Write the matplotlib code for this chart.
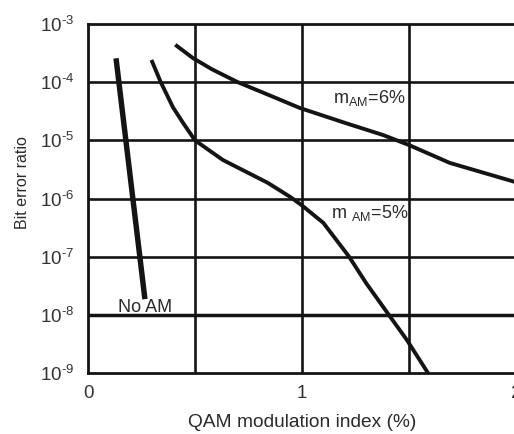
import matplotlib
matplotlib.use("Agg")
import matplotlib.pyplot as plt

plt.rcParams['font.family'] = ['Liberation Sans', 'DejaVu Sans']
plt.rcParams['mathtext.fontset'] = 'custom'
plt.rcParams['mathtext.rm'] = 'Liberation Sans'
plt.rcParams['mathtext.it'] = 'Liberation Sans'

# Data (QAM modulation index %, bit error ratio)
noam_x = [0.131, 0.266]
noam_y = [2.57e-4, 1.86e-8]

m5_x = [0.30, 0.34, 0.397, 0.444, 0.50, 0.63, 0.84, 0.944, 1.00, 1.10, 1.22, 1.30, 1.40, 1.49, 1.585]
m5_y = [2.24e-4, 1.0e-4, 3.7e-5, 2.0e-5, 1.0e-5, 4.6e-6, 1.86e-6, 1.07e-6, 7.6e-7, 3.8e-7, 1.0e-7, 3.5e-8, 1.07e-8, 3.7e-9, 1.05e-9]

m6_x = [0.415, 0.49, 0.58, 0.70, 0.865, 0.99, 1.20, 1.38, 1.50, 1.69, 1.99]
m6_y = [4.2e-4, 2.6e-4, 1.66e-4, 1.0e-4, 5.6e-5, 3.6e-5, 2.0e-5, 1.23e-5, 8.3e-6, 4.1e-6, 1.95e-6]

xticks = [0, 1, 2]
xtick_labels = ['0', '1', '2']
yexps = [9, 8, 7, 6, 5, 4, 3]
yticks = [10.0 ** (-k) for k in yexps]
ytick_labels = [r'$\mathregular{10^{\text{-%d}}}$' % k for k in yexps]

fig = plt.figure(figsize=(5.14, 4.34), dpi=100)
ax = fig.add_axes([88/514, 61/434, 428/514, 349/434])
ax.set_yscale('log')
ax.set_xlim(0, 2)
ax.set_ylim(1e-9, 1e-3)

ink = '#141414'
# grid
for gx in [0.5, 1.0, 1.5]:
    ax.axvline(gx, color=ink, lw=1.9, zorder=1)
for gy in [1e-8, 1e-7, 1e-6, 1e-5, 1e-4]:
    ax.axhline(gy, color=ink, lw=2.5 if gy == 1e-8 else 1.9, zorder=5 if gy == 1e-8 else 1)

ax.plot(noam_x, noam_y, color=ink, lw=3.9, solid_capstyle='butt', zorder=3)
ax.plot(m5_x, m5_y, color=ink, lw=2.8, zorder=3)
ax.plot(m6_x, m6_y, color=ink, lw=2.8, zorder=3)

tc = '#2a2a2a'
ax.text(1.145, 4.4e-5, r'm$_{\mathregular{AM}}$=6%', fontsize=13, color=tc, va='baseline', ha='left', zorder=4)
ax.text(1.136, 4.6e-7, r'm $_{\mathregular{AM}}$=5%', fontsize=13, color=tc, va='baseline', ha='left', zorder=4)
ax.text(0.14, 1.1e-8, 'No AM', fontsize=13, color=tc, va='baseline', ha='left', zorder=4)

for s in ax.spines.values():
    s.set_linewidth(2.0)
    s.set_color(ink)

ax.set_xticks(xticks)
ax.set_xticklabels(xtick_labels)
ax.set_yticks(yticks)
ax.set_yticklabels(ytick_labels)
ax.minorticks_off()
ax.tick_params(length=0, labelsize=13.5, colors='#333333')
ax.tick_params(axis='x', pad=8.5)
ax.tick_params(axis='y', pad=10)

ax.set_xlabel('QAM modulation index (%)', fontsize=13.8, color=tc, labelpad=9)
fig.text(23/514, 1 - 183/434, 'Bit error ratio', rotation=90, fontsize=11.5, color=tc,
         ha='center', va='center')

fig.savefig('out.png', dpi=100)
